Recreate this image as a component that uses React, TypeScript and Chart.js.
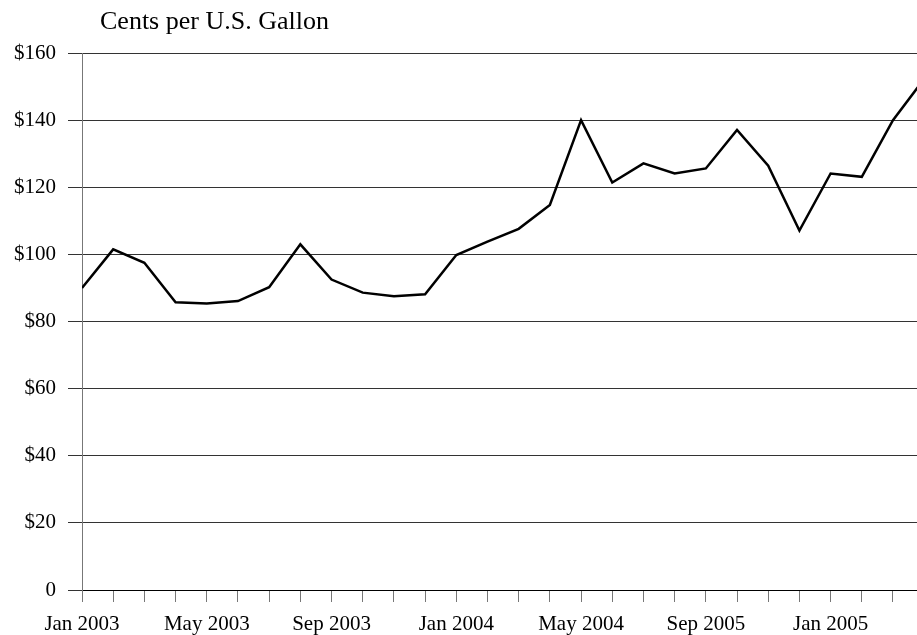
import React, { useEffect, useRef } from "react";
import { Chart, registerables } from "chart.js";

Chart.register(...registerables);

const months: string[] = [
  "Jan 2003", "Feb 2003", "Mar 2003", "Apr 2003", "May 2003", "Jun 2003",
  "Jul 2003", "Aug 2003", "Sep 2003", "Oct 2003", "Nov 2003", "Dec 2003",
  "Jan 2004", "Feb 2004", "Mar 2004", "Apr 2004", "May 2004", "Jun 2004",
  "Jul 2004", "Aug 2004", "Sep 2004", "Oct 2004", "Nov 2004", "Dec 2004",
  "Jan 2005", "Feb 2005", "Mar 2005", "Apr 2005",
];

const prices: number[] = [
  90, 101.5, 97.5, 85.7, 85.4, 86.1, 90.2, 103, 92.5, 88.6, 87.5, 88.1,
  99.8, 103.8, 107.6, 114.7, 140, 121.4, 127.1, 124.1, 125.6, 137.1, 126.4, 107.1,
  124.1, 123.1, 140, 152.3,
];

// Tick labels shown every fourth month (as printed in the original)
const tickLabelIndex: number[] = [0, 4, 8, 12, 16, 20, 24];
const tickLabelText: string[] = [
  "Jan 2003", "May 2003", "Sep 2003", "Jan 2004", "May 2004", "Sep 2005", "Jan 2005",
];

const yTicks: number[] = [0, 20, 40, 60, 80, 100, 120, 140, 160];
const yTickText: string[] = ["0", "$20", "$40", "$60", "$80", "$100", "$120", "$140", "$160"];

const unitTitle = "Cents per U.S. Gallon";

const FONT = '"Liberation Serif", "Times New Roman", serif';

export default function App() {
  const ref = useRef<HTMLCanvasElement | null>(null);

  useEffect(() => {
    if (!ref.current) return;
    const titlePlugin = {
      id: "unitTitle",
      afterDraw(chart: any) {
        const { ctx, chartArea } = chart;
        ctx.save();
        ctx.fillStyle = "#000";
        ctx.font = `26px ${FONT}`;
        ctx.textAlign = "left";
        ctx.textBaseline = "alphabetic";
        ctx.fillText(unitTitle, chartArea.left + 18, chartArea.top - 24);
        ctx.restore();
      },
    };
    const chart = new Chart(ref.current, {
      type: "line",
      data: {
        labels: months,
        datasets: [
          {
            data: prices.map((v, i) => ({ x: i, y: v })),
            borderColor: "#000",
            borderWidth: 2.5,
            pointRadius: 0,
            tension: 0,
            fill: false,
          },
        ],
      },
      options: {
        animation: false,
        responsive: true,
        maintainAspectRatio: false,
        layout: { padding: { top: 53, left: 0, right: 0, bottom: 0 } },
        plugins: { legend: { display: false }, tooltip: { enabled: false } },
        scales: {
          x: {
            type: "linear",
            min: 0,
            max: 26.77,
            afterFit: (s: any) => { s.height = 45; },
            ticks: {
              stepSize: 1,
              includeBounds: false,
              autoSkip: false,
              maxRotation: 0,
              padding: 10,
              color: "#000",
              font: { family: FONT, size: 21 },
              callback: (v: any) => {
                const k = tickLabelIndex.indexOf(Number(v));
                return k >= 0 ? tickLabelText[k] : "";
              },
            },
            grid: {
              drawOnChartArea: false,
              drawTicks: true,
              tickLength: 12,
              color: "#777",
            },
            border: { display: true, color: "#000", width: 1 },
          },
          y: {
            min: 0,
            max: 160,
            afterFit: (s: any) => { s.width = 82; },
            afterBuildTicks: (s: any) => { s.ticks = yTicks.map((v) => ({ value: v })); },
            ticks: {
              padding: 12,
              color: "#000",
              font: { family: FONT, size: 21 },
              callback: (v: any) => {
                const k = yTicks.indexOf(Number(v));
                return k >= 0 ? yTickText[k] : "";
              },
            },
            grid: { color: "#333", tickLength: 14, lineWidth: 1 },
            border: { display: true, color: "#777", width: 1 },
          },
        },
      },
      plugins: [titlePlugin],
    });
    return () => chart.destroy();
  }, []);

  return (
    <div style={{ position: "fixed", left: 0, top: 0, width: 917, height: 635, background: "#fff" }}>
      <canvas ref={ref} />
    </div>
  );
}
